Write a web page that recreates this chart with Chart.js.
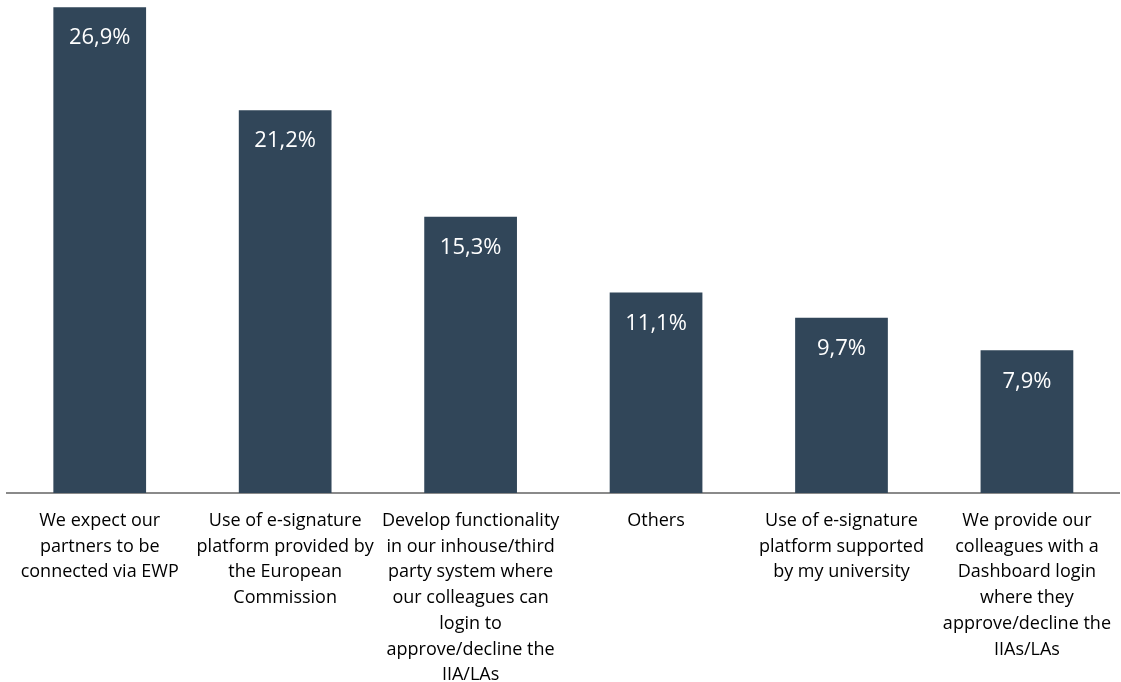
<!DOCTYPE html>
<html>
<head>
<meta charset="utf-8">
<script src="https://cdn.jsdelivr.net/npm/chart.js@4"></script>
<style>
  html, body { margin: 0; padding: 0; background: #fff; overflow: hidden; }
  #wrap { width: 1121px; height: 682px; overflow: hidden; }
</style>
</head>
<body>
<div id="wrap">
  <canvas id="myChart" width="1126" height="682"></canvas>
</div>
<script>
// answer options, one array of lines per bar
var categories = [
    ['We expect our', 'partners to be', 'connected via EWP'],
    ['Use of e-signature', 'platform provided by', 'the European', 'Commission'],
    ['Develop functionality', 'in our inhouse/third', 'party system where', 'our colleagues can', 'login to', 'approve/decline the', 'IIA/LAs'],
    ['Others'],
    ['Use of e-signature', 'platform supported', 'by my university'],
    ['We provide our', 'colleagues with a', 'Dashboard login', 'where they', 'approve/decline the', 'IIAs/LAs']
]
var shares = [26.9, 21.2, 15.3, 11.1, 9.7, 7.9]

var barColor = '#314659'

function formatPct(v) {
    return v.toFixed(1).replace('.', ',') + '%'
}

// writes the value inside the top of each bar
const valueLabels = {
    id: 'valueLabels',
    afterDatasetsDraw(chart) {
        const ctx = chart.ctx
        const meta = chart.getDatasetMeta(0)
        ctx.save()
        ctx.fillStyle = '#ffffff'
        ctx.font = '22px "Open Sans"'
        ctx.textAlign = 'center'
        ctx.textBaseline = 'middle'
        meta.data.forEach(function (bar, i) {
            ctx.fillText(formatPct(shares[i]), bar.x, bar.y + 31)
        })
        ctx.restore()
    }
}

document.addEventListener("DOMContentLoaded", function () {
    const ctx = document.getElementById("myChart")

    new Chart(ctx, {
        type: 'bar',
        data: {
            labels: categories,
            datasets: [{
                data: shares,
                backgroundColor: barColor,
                borderWidth: 0,
                barPercentage: 0.5,
                categoryPercentage: 1
            }]
        },
        options: {
            responsive: false,
            animation: false,
            devicePixelRatio: 1,
            layout: { padding: { left: 7, right: 0, top: 0, bottom: 0 } },
            plugins: {
                legend: { display: false },
                tooltip: { enabled: false }
            },
            scales: {
                x: {
                    grid: { display: false, drawTicks: false },
                    border: { display: true, color: '#8a8a8a', width: 2 },
                    ticks: {
                        color: '#000000',
                        autoSkip: false,
                        maxRotation: 0,
                        minRotation: 0,
                        padding: 15,
                        font: { family: '"Open Sans"', size: 18, lineHeight: 1.43 }
                    },
                    afterFit: function (scale) {
                        scale.height = 189
                    }
                },
                y: {
                    display: false,
                    min: 0,
                    max: 27.3
                }
            }
        },
        plugins: [valueLabels]
    })
})
</script>
</body>
</html>
